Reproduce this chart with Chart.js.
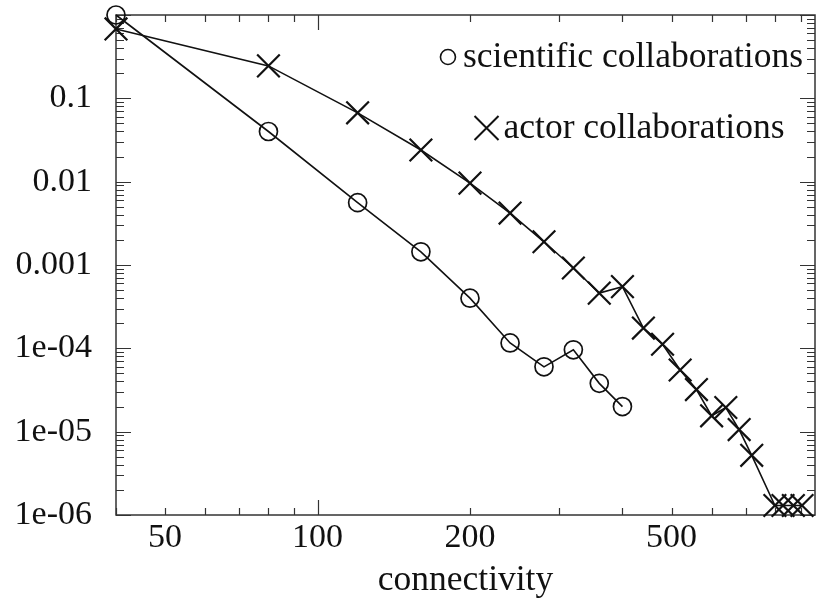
<!DOCTYPE html>
<html>
<head>
<meta charset="utf-8">
<script src="https://cdn.jsdelivr.net/npm/chart.js@4.4.1/dist/chart.umd.min.js"></script>
<style>
  html, body { margin: 0; padding: 0; background: #fff; }
</style>
</head>
<body>
<canvas id="myChart" width="816" height="598"></canvas>
<script>
// degree distribution of two collaboration graphs
const sciX = [40, 80, 120, 160, 200, 240, 280, 320, 360, 400];
const sciY = [1.0, 0.04, 0.0056, 0.00144, 0.0004, 0.000116, 0.00006, 0.000096, 0.000038, 0.00002];

const actorX = [40, 80, 120, 160, 200, 240, 280, 320, 360, 400, 440, 480, 520, 560, 600, 640, 680, 720, 800, 830, 870, 905];
const actorY = [0.68, 0.245, 0.067, 0.024, 0.0096, 0.0042, 0.0019, 0.00092, 0.00046, 0.00055,
                0.000175, 0.000112, 0.000055, 0.000032, 0.0000155, 0.0000195, 0.0000106, 0.0000052,
                0.0000013, 0.0000013, 0.0000013, 0.0000013];

const xTickValues = [50, 100, 200, 500];
const xTickLabels = ['50', '100', '200', '500'];
const yTickValues = [1e-6, 1e-5, 1e-4, 1e-3, 1e-2, 1e-1];
const yTickLabels = ['1e-06', '1e-05', '1e-04', '0.001', '0.01', '0.1'];

const seriesNames = ['scientific collaborations', 'actor collaborations'];

const FONT = 'Liberation Serif';
const INK = '#111';

const toPoints = (xs, ys) => xs.map((x, i) => ({x: x, y: ys[i]}));

// tick positions: 1..9 in every decade
function decadeTicks(lo, hi) {
    const out = [];
    for (let e = lo; e <= hi; e++) {
        for (let m = 1; m <= 9; m++) out.push(parseFloat(m + 'e' + e));
    }
    return out;
}

function noScalePadding(scale) {
    scale.paddingTop = 0;
    scale.paddingBottom = 0;
    scale.paddingLeft = 0;
    scale.paddingRight = 0;
}

// frame plus inward tick marks on all four sides, gnuplot style
const frameTicks = {
    id: 'frameTicks',
    beforeDatasetsDraw(chart) {
        const {ctx, chartArea: a, scales} = chart;
        ctx.save();
        ctx.strokeStyle = '#333';
        ctx.lineWidth = 1.5;
        ctx.strokeRect(a.left, a.top, a.right - a.left, a.bottom - a.top);
        ctx.lineWidth = 1.2;
        const isDecade = v => Math.abs(Math.log10(v) - Math.round(Math.log10(v))) < 1e-9;
        ctx.beginPath();
        scales.y.ticks.forEach(t => {
            const py = Math.round(scales.y.getPixelForValue(t.value)) + 0.5;
            const len = isDecade(t.value) ? 15 : 8;
            ctx.moveTo(a.left, py); ctx.lineTo(a.left + len, py);
            ctx.moveTo(a.right, py); ctx.lineTo(a.right - len, py);
        });
        scales.x.ticks.forEach(t => {
            const px = Math.round(scales.x.getPixelForValue(t.value)) + 0.5;
            const len = t.value === 100 ? 15 : 7;
            ctx.moveTo(px, a.bottom); ctx.lineTo(px, a.bottom - len);
            ctx.moveTo(px, a.top); ctx.lineTo(px, a.top + len);
        });
        ctx.stroke();
        ctx.restore();
    },
    afterDraw(chart) {
        // key in the upper right corner
        const ctx = chart.ctx;
        ctx.save();
        ctx.font = '35.5px "' + FONT + '"';
        ctx.fillStyle = INK;
        ctx.strokeStyle = INK;
        ctx.textBaseline = 'middle';
        ctx.textAlign = 'left';
        const rows = [{cx: 633, cy: 57}, {cx: 644, cy: 128}];
        rows.forEach((r, i) => {
            const w = ctx.measureText(seriesNames[i]).width;
            const tx = r.cx - w / 2;
            ctx.fillText(seriesNames[i], tx, r.cy + 1);
            ctx.beginPath();
            if (i === 0) {
                ctx.lineWidth = 1.6;
                ctx.arc(tx - 15, r.cy, 7.5, 0, Math.PI * 2);
            } else {
                ctx.lineWidth = 2;
                ctx.moveTo(tx - 29, r.cy - 12); ctx.lineTo(tx - 5, r.cy + 12);
                ctx.moveTo(tx - 29, r.cy + 12); ctx.lineTo(tx - 5, r.cy - 12);
            }
            ctx.stroke();
        });
        ctx.restore();
    }
};

const ctx = document.getElementById('myChart');

new Chart(ctx, {
    type: 'scatter',
    data: {
        datasets: [{
            label: seriesNames[0],
            data: toPoints(sciX, sciY),
            showLine: true,
            borderColor: INK,
            backgroundColor: 'rgba(0,0,0,0)',
            borderWidth: 1.6,
            pointStyle: 'circle',
            pointRadius: 9,
            pointBorderWidth: 1.7,
            pointBorderColor: INK,
            pointBackgroundColor: 'rgba(0,0,0,0)',
            clip: false
        }, {
            label: seriesNames[1],
            data: toPoints(actorX, actorY),
            showLine: true,
            borderColor: INK,
            backgroundColor: 'rgba(0,0,0,0)',
            borderWidth: 1.6,
            pointStyle: 'crossRot',
            pointRadius: 16,
            pointBorderWidth: 2.2,
            pointBorderColor: INK,
            clip: false
        }]
    },
    options: {
        responsive: false,
        animation: false,
        layout: {autoPadding: false, padding: {top: 15, right: 1, left: 0, bottom: 0}},
        plugins: {
            legend: {display: false},
            tooltip: {enabled: false}
        },
        scales: {
            x: {
                type: 'logarithmic',
                min: 40,
                max: 960,
                grid: {display: false},
                border: {display: false},
                afterBuildTicks: scale => {
                    scale.ticks = decadeTicks(1, 2).filter(v => v >= 40 && v <= 960).map(v => ({value: v}));
                },
                afterFit: scale => { scale.height = 83; noScalePadding(scale); },
                ticks: {
                    autoSkip: false,
                    maxRotation: 0,
                    padding: -5,
                    color: INK,
                    font: {family: FONT, size: 34},
                    callback: v => {
                        const i = xTickValues.indexOf(v);
                        return i < 0 ? '' : xTickLabels[i];
                    }
                },
                title: {
                    display: true,
                    text: 'connectivity',
                    color: INK,
                    padding: 0,
                    font: {family: FONT, size: 35.5, lineHeight: 1}
                }
            },
            y: {
                type: 'logarithmic',
                min: 1e-6,
                max: 1,
                grid: {display: false},
                border: {display: false},
                afterBuildTicks: scale => {
                    scale.ticks = decadeTicks(-6, -1).concat([1]).map(v => ({value: v}));
                },
                afterFit: scale => { scale.width = 116; noScalePadding(scale); },
                ticks: {
                    autoSkip: false,
                    padding: 16,
                    color: INK,
                    font: {family: FONT, size: 34},
                    callback: v => {
                        const i = yTickValues.indexOf(v);
                        return i < 0 ? '' : yTickLabels[i];
                    }
                }
            }
        }
    },
    plugins: [frameTicks]
});
</script>
</body>
</html>
